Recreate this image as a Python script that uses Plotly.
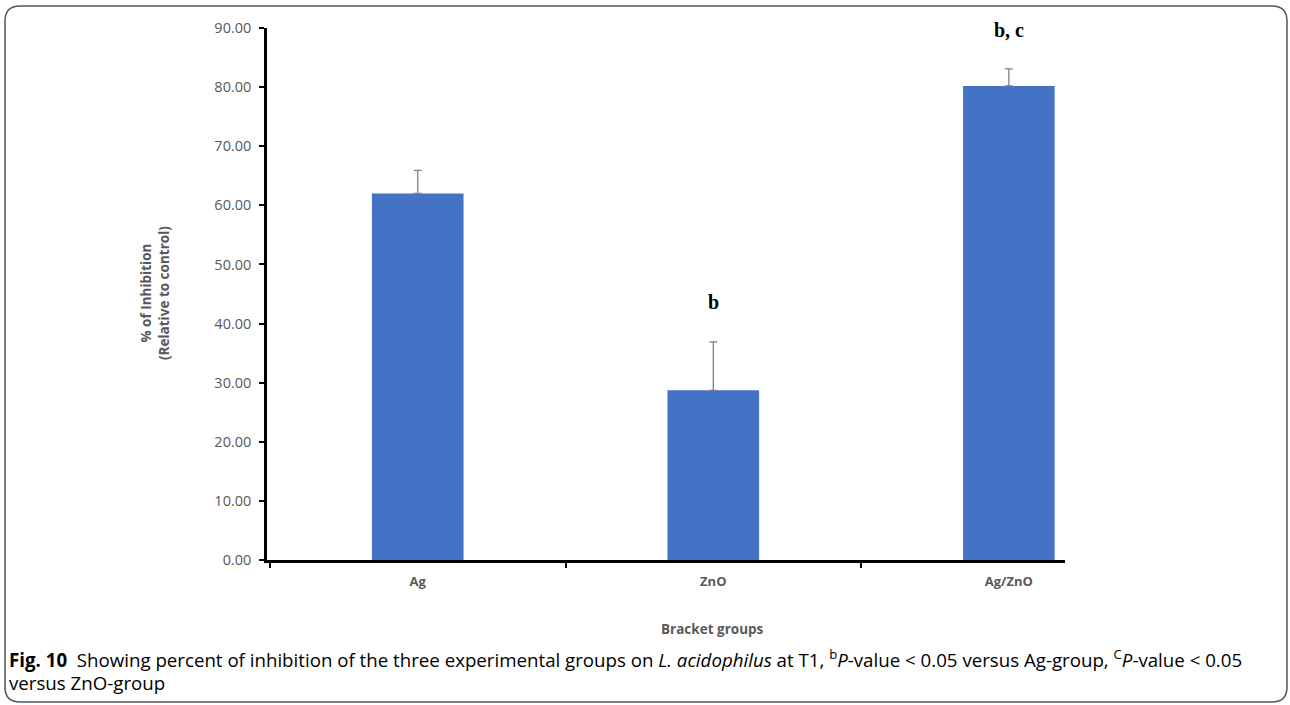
import plotly.graph_objects as go

categories = ["Ag", "ZnO", "Ag/ZnO"]
inhibition = [62.0, 28.7, 80.2]
error_plus = [3.9, 8.2, 2.9]
sig_labels = ["", "b", "b, c"]
sig_y = [None, 43.6, 89.7]
y_ticks = [0, 10, 20, 30, 40, 50, 60, 70, 80, 90]

W, H = 1290, 705
L, R, T, B = 267, 1065, 28, 560

def px(x):
    return (x - L) / (R - L)

def py(y):
    return (B - y) / (B - T)

fig = go.Figure()
fig.add_trace(go.Bar(
    x=categories, y=inhibition, width=0.31,
    marker=dict(color="#4472C4", line=dict(width=0)),
    error_y=dict(type="data", symmetric=False, array=error_plus,
                 arrayminus=[0] * len(error_plus),
                 color="#808080", thickness=1.3, width=4),
    showlegend=False, hoverinfo="skip"))

annotations = []
for c, lab, yy in zip(categories, sig_labels, sig_y):
    if lab:
        annotations.append(dict(x=c, y=yy, xref="x", yref="y", text=f"<b>{lab}</b>",
                                showarrow=False, font=dict(family="Liberation Serif", size=20, color="black"),
                                xanchor="center", yanchor="middle"))

annotations.append(dict(x=px(155), y=py(293), xref="paper", yref="paper", xanchor="center", yanchor="middle",
                        text="<b>% of Inhibition<br>(Relative to control)</b>", textangle=-90,
                        showarrow=False, font=dict(family="Open Sans", size=13.5, color="#595959")))
annotations.append(dict(x=px(712), y=py(629), xref="paper", yref="paper", xanchor="center", yanchor="middle",
                        text="<b>Bracket groups</b>", showarrow=False,
                        font=dict(family="Open Sans", size=13.5, color="#595959")))
cap_font = dict(family="Open Sans", size=18.7, color="black")
annotations.append(dict(x=px(7), y=py(658), xref="paper", yref="paper", xanchor="left", yanchor="middle",
                        text="<b>Fig. 10</b>  Showing percent of inhibition of the three experimental groups on <i>L. acidophilus</i> at T1, <sup>b</sup><i>P</i>-value < 0.05 versus Ag-group, <sup>C</sup><i>P</i>-value < 0.05",
                        showarrow=False, font=cap_font))
annotations.append(dict(x=px(7), y=py(682), xref="paper", yref="paper", xanchor="left", yanchor="middle",
                        text="versus ZnO-group", showarrow=False, font=cap_font))

# rounded frame
x0, y0, x1, y1, r = 5, 6, 1287, 702, 15
path = (f"M {px(x0+r)},{py(y0)} L {px(x1-r)},{py(y0)} Q {px(x1)},{py(y0)} {px(x1)},{py(y0+r)} "
        f"L {px(x1)},{py(y1-r)} Q {px(x1)},{py(y1)} {px(x1-r)},{py(y1)} "
        f"L {px(x0+r)},{py(y1)} Q {px(x0)},{py(y1)} {px(x0)},{py(y1-r)} "
        f"L {px(x0)},{py(y0+r)} Q {px(x0)},{py(y0)} {px(x0+r)},{py(y0)} Z")

fig.update_layout(
    width=W, height=H,
    margin=dict(l=L, r=W - R, t=T, b=H - B),
    paper_bgcolor="white", plot_bgcolor="white",
    annotations=annotations,
    shapes=[dict(type="path", path=path, xref="paper", yref="paper",
                 line=dict(color="#555555", width=1.5))],
    xaxis=dict(range=[-0.51, 2.19], showline=True, linecolor="black", linewidth=2.5,
               ticks="outside", tickson="boundaries", ticklen=5, tickwidth=2, tickcolor="black",
               showgrid=False, ticklabelstandoff=8,
               tickfont=dict(family="Open Sans", size=13, color="#595959"),
               tickprefix="<b>", ticksuffix="</b>"),
    yaxis=dict(range=[0, 90], tickvals=y_ticks, tickformat=".2f", showline=True, linecolor="black",
               linewidth=2.5, ticks="outside", ticklen=5, tickwidth=2, tickcolor="black",
               showgrid=False, zeroline=False, ticklabelstandoff=5,
               tickfont=dict(family="Open Sans", size=14.5, color="#595959")),
)

fig.write_html("out.html", config={"displayModeBar": False},
               post_script="document.body.style.margin='0';document.body.style.overflow='hidden';")
